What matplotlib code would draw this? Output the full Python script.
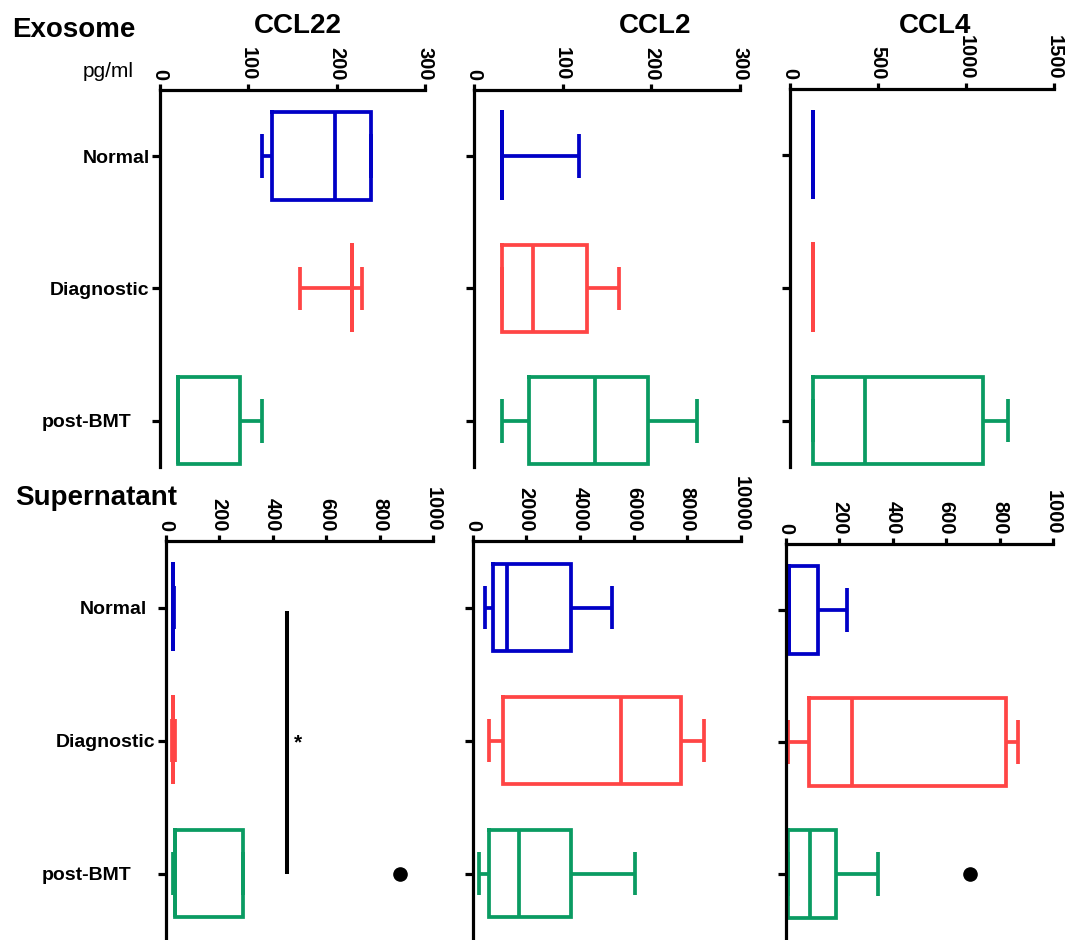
import matplotlib
matplotlib.use("Agg")
import matplotlib.pyplot as plt
from matplotlib.transforms import ScaledTranslation

plt.rcParams["font.family"] = ["Liberation Sans", "DejaVu Sans"]

GROUPS = ["Normal", "Diagnostic", "post-BMT"]
GROUP_COLORS = ["#0000C6", "#FF4545", "#0A9B62"]

# Five-number summaries per group: whisker low, Q1, median, Q3, whisker high (pg/ml)
EXO_CCL22 = [[115, 127, 198, 239, 239], [158, 217, 217, 217, 229], [20, 20, 20, 91, 116]]
EXO_CCL2 = [[32, 32, 32, 32, 118], [32, 32, 67, 128, 164], [32, 62, 137, 196, 251]]
EXO_CCL4 = [[130, 130, 130, 130, 130], [130, 130, 130, 130, 130], [130, 130, 426, 1098, 1237]]
SUP_CCL22 = [[26, 26, 27, 28, 32], [23, 27, 28, 29, 36], [26, 36, 36, 288, 288]]
SUP_CCL2 = [[465, 775, 1296, 3657, 5184], [626, 1147, 5531, 7765, 8633], [253, 626, 1732, 3657, 6052]]
SUP_CCL4 = [[10, 10, 10, 118, 230], [8, 86, 248, 824, 870], [8, 8, 90, 186, 346]]

SUP_CCL22_OUTLIERS = [[], [], [875]]
SUP_CCL4_OUTLIERS = [[], [], [689]]

EXO_CCL22_TICKS = [0, 100, 200, 300]
EXO_CCL2_TICKS = [0, 100, 200, 300]
EXO_CCL4_TICKS = [0, 500, 1000, 1500]
SUP_CCL22_TICKS = [0, 200, 400, 600, 800, 1000]
SUP_CCL2_TICKS = [0, 2000, 4000, 6000, 8000, 10000]
SUP_CCL4_TICKS = [0, 200, 400, 600, 800, 1000]

# significance bar between Normal and post-BMT (supernatant CCL22)
SIG_X = 452
SIG_SPAN = [0.03, 2.0]
SIG_LABEL = "*"

W, H = 1071, 940
fig = plt.figure(figsize=(W / 100, H / 100), dpi=100)

LW = 2.7


def add_panel(left, top, right, bottom):
    return fig.add_axes([left / W, 1 - bottom / H, (right - left) / W, (bottom - top) / H])


def draw_boxes(ax, summaries, outliers=None):
    stats = []
    for i, s in enumerate(summaries):
        stats.append(dict(label=GROUPS[i], whislo=s[0], q1=s[1], med=s[2], q3=s[3],
                          whishi=s[4], fliers=(outliers[i] if outliers else [])))
    res = ax.bxp(stats, positions=[0, 1, 2], widths=0.66, capwidths=0.33,
                 orientation="horizontal", manage_ticks=False,
                 flierprops=dict(marker="o", markersize=9.5, markerfacecolor="black",
                                 markeredgecolor="black", linestyle="none"))
    for i, c in enumerate(GROUP_COLORS):
        box = res["boxes"][i]
        box.set_color(c)
        box.set_linewidth(LW)
        box.set_solid_joinstyle("miter")
        box.set_solid_capstyle("projecting")
        med = res["medians"][i]
        med.set_color(c)
        med.set_linewidth(LW)
        med.set_solid_capstyle("butt")
        for art in res["whiskers"][2 * i:2 * i + 2] + res["caps"][2 * i:2 * i + 2]:
            art.set_color(c)
            art.set_linewidth(LW)
            art.set_solid_capstyle("butt")
    for art in list(res["boxes"]) + list(res["medians"]) + list(res["whiskers"]) + list(res["caps"]):
        art.set_clip_on(False)


def style_axes(ax, ticks, ylim, show_labels=False, label_shift=None):
    ax.set_xlim(ticks[0], ticks[-1])
    ax.set_ylim(*ylim)
    ax.spines["right"].set_visible(False)
    ax.spines["bottom"].set_visible(False)
    ax.spines["top"].set_linewidth(2.3)
    ax.spines["left"].set_linewidth(2.3)
    ax.xaxis.tick_top()
    ax.set_xticks(ticks)
    ax.set_xticklabels([str(t) for t in ticks])
    ax.tick_params(axis="x", top=True, bottom=False, direction="out", length=4.5, width=2.3,
                   pad=2.5, labelsize=14.5, labelrotation=-90)
    for lbl in ax.get_xticklabels():
        lbl.set_fontweight("bold")
    ax.set_yticks([0, 1, 2])
    ax.tick_params(axis="y", left=True, direction="out", length=5.8, width=2.3, pad=1.5,
                   labelsize=14)
    if show_labels:
        ax.set_yticklabels(GROUPS)
        ticks_y = ax.yaxis.get_major_ticks()
        for tk, shift in zip(ticks_y, label_shift):
            lbl = tk.label1
            lbl.set_fontweight("bold")
            lbl.set_transform(lbl.get_transform()
                              + ScaledTranslation(-shift / 100, 0, fig.dpi_scale_trans))
    else:
        ax.set_yticklabels([])


ROW1_YLIM = (2.35, -0.5)
ROW2_YLIM = (2.5, -0.5)

ax1 = add_panel(160, 90, 425, 467)
draw_boxes(ax1, EXO_CCL22)
style_axes(ax1, EXO_CCL22_TICKS, ROW1_YLIM, True, [0, 0, 18])

ax2 = add_panel(474, 90, 740, 467)
draw_boxes(ax2, EXO_CCL2)
style_axes(ax2, EXO_CCL2_TICKS, ROW1_YLIM)

ax3 = add_panel(790, 89, 1054, 467)
draw_boxes(ax3, EXO_CCL4)
style_axes(ax3, EXO_CCL4_TICKS, ROW1_YLIM)

ax4 = add_panel(165.7, 541, 433.3, 940)
draw_boxes(ax4, SUP_CCL22, SUP_CCL22_OUTLIERS)
style_axes(ax4, SUP_CCL22_TICKS, ROW2_YLIM, True, [9, 0, 24])
ax4.plot([SIG_X, SIG_X], SIG_SPAN, color="black", linewidth=2.9, solid_capstyle="butt")
ax4.text(SIG_X + 42, 1.06, SIG_LABEL, fontsize=15, fontweight="bold", ha="center", va="baseline")

ax5 = add_panel(472.5, 541, 741, 940)
draw_boxes(ax5, SUP_CCL2)
style_axes(ax5, SUP_CCL2_TICKS, ROW2_YLIM)

ax6 = add_panel(786, 544, 1053, 940)
draw_boxes(ax6, SUP_CCL4, SUP_CCL4_OUTLIERS)
style_axes(ax6, SUP_CCL4_TICKS, ROW2_YLIM)

# titles and row labels
fig.text(12 / W, 1 - 37 / H, "Exosome", fontsize=20, fontweight="bold", ha="left", va="baseline")
fig.text(15 / W, 1 - 505 / H, "Supernatant", fontsize=20, fontweight="bold", ha="left", va="baseline")
fig.text(83 / W, 1 - 77 / H, "pg/ml", fontsize=15, ha="left", va="baseline")
for name, xc in [("CCL22", 298), ("CCL2", 655), ("CCL4", 935)]:
    fig.text(xc / W, 1 - 33 / H, name, fontsize=20, fontweight="bold", ha="center", va="baseline")

fig.savefig("out.png", dpi=100)
